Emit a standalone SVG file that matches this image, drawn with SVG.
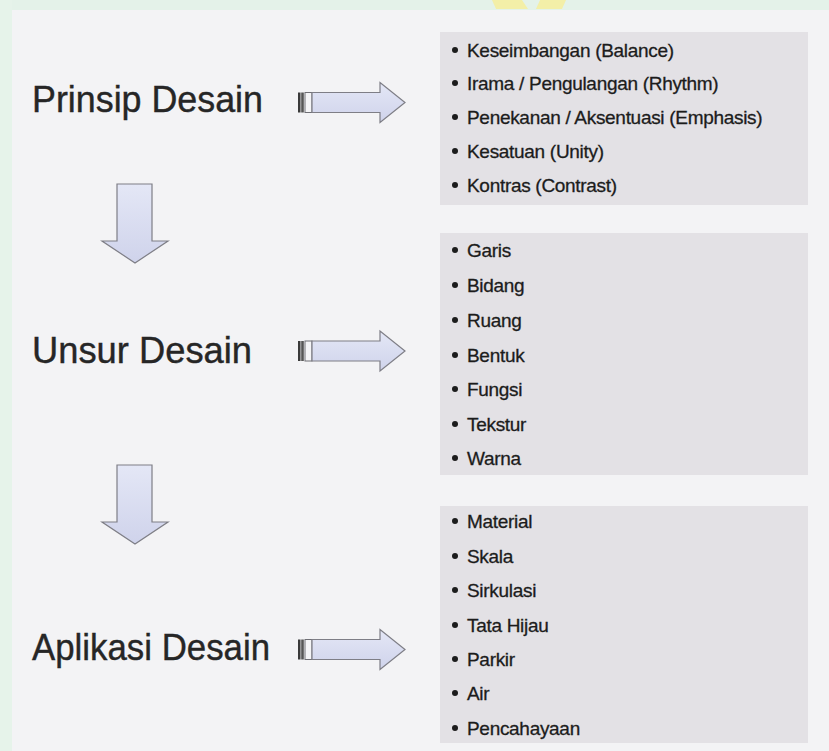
<svg xmlns="http://www.w3.org/2000/svg" width="829" height="751" viewBox="0 0 829 751">
<defs>
<style>
.lbl{font-family:"Liberation Sans",Arial,sans-serif;font-size:37px;fill:#262626;stroke:#262626;stroke-width:0.4px;}
.it{font-family:"Liberation Sans",Arial,sans-serif;font-size:19px;fill:#1c1c1c;stroke:#1c1c1c;stroke-width:0.3px;letter-spacing:-0.3px;}
.box{fill:#e3e1e5;}
.bul{fill:#1c1c1c;}
.arr{fill:url(#ag);stroke:#7e7e86;stroke-width:1.2;stroke-linejoin:miter;}
</style>
<linearGradient id="ag" x1="0" y1="0" x2="0" y2="1">
<stop offset="0" stop-color="#e4e7f6"/>
<stop offset="1" stop-color="#cfd3eb"/>
</linearGradient>
<g id="ra">
<rect x="298" y="-10" width="2.5" height="20" fill="#3a3a3a"/>
<rect x="301.2" y="-10" width="2.6" height="20" fill="#555"/>
<rect x="305" y="-10" width="7" height="20" fill="#f4f4f6" stroke="#6e6e74" stroke-width="1"/>
<polygon class="arr" points="312,-10 380,-10 380,-20 405,0 380,20 380,10 312,10"/>
</g>
<polygon id="da" class="arr" points="117,0 152,0 152,57 168,57 135,79 102,57 117,57"/>
</defs>
<rect width="829" height="751" fill="#f3f3f5"/>
<rect width="829" height="10" fill="#e4f2e9"/>
<rect width="12" height="751" fill="#e6f3ea"/>
<polygon points="492,0 522,0 528,9 496,9" fill="#f3efa8"/>
<polygon points="540,0 566,0 562,9 536,9" fill="#f3efa8"/>
<g id="box-prinsip">
<rect class="box" x="440" y="32" width="368" height="173"/>
<circle class="bul" cx="455" cy="50" r="3"/><text class="it" x="467" y="57">Keseimbangan (Balance)</text>
<circle class="bul" cx="455" cy="83" r="3"/><text class="it" x="467" y="90">Irama / Pengulangan (Rhythm)</text>
<circle class="bul" cx="455" cy="117" r="3"/><text class="it" x="467" y="124">Penekanan / Aksentuasi (Emphasis)</text>
<circle class="bul" cx="455" cy="151" r="3"/><text class="it" x="467" y="158">Kesatuan (Unity)</text>
<circle class="bul" cx="455" cy="185" r="3"/><text class="it" x="467" y="192">Kontras (Contrast)</text>
</g>
<g id="box-unsur">
<rect class="box" x="440" y="233" width="368" height="242"/>
<circle class="bul" cx="455" cy="250" r="3"/><text class="it" x="467" y="257">Garis</text>
<circle class="bul" cx="455" cy="285" r="3"/><text class="it" x="467" y="292">Bidang</text>
<circle class="bul" cx="455" cy="320" r="3"/><text class="it" x="467" y="327">Ruang</text>
<circle class="bul" cx="455" cy="355" r="3"/><text class="it" x="467" y="362">Bentuk</text>
<circle class="bul" cx="455" cy="389" r="3"/><text class="it" x="467" y="396">Fungsi</text>
<circle class="bul" cx="455" cy="424" r="3"/><text class="it" x="467" y="431">Tekstur</text>
<circle class="bul" cx="455" cy="458" r="3"/><text class="it" x="467" y="465">Warna</text>
</g>
<g id="box-aplikasi">
<rect class="box" x="440" y="506" width="368" height="237"/>
<circle class="bul" cx="455" cy="521" r="3"/><text class="it" x="467" y="528">Material</text>
<circle class="bul" cx="455" cy="556" r="3"/><text class="it" x="467" y="563">Skala</text>
<circle class="bul" cx="455" cy="590" r="3"/><text class="it" x="467" y="597">Sirkulasi</text>
<circle class="bul" cx="455" cy="625" r="3"/><text class="it" x="467" y="632">Tata Hijau</text>
<circle class="bul" cx="455" cy="659" r="3"/><text class="it" x="467" y="666">Parkir</text>
<circle class="bul" cx="455" cy="693" r="3"/><text class="it" x="467" y="700">Air</text>
<circle class="bul" cx="455" cy="728" r="3"/><text class="it" x="467" y="735">Pencahayaan</text>
</g>
<g id="node-prinsip"><text class="lbl" x="32" y="112" textLength="231" lengthAdjust="spacingAndGlyphs">Prinsip Desain</text></g>
<g id="node-unsur"><text class="lbl" x="32" y="363" textLength="220" lengthAdjust="spacingAndGlyphs">Unsur Desain</text></g>
<g id="node-aplikasi"><text class="lbl" x="32" y="660" textLength="238" lengthAdjust="spacingAndGlyphs">Aplikasi Desain</text></g>
<g id="connectors">
<use href="#ra" transform="translate(0,102.5)"/>
<use href="#ra" transform="translate(0,351)"/>
<use href="#ra" transform="translate(0,649.5)"/>
<use href="#da" transform="translate(0,184)"/>
<use href="#da" transform="translate(0,465)"/>
</g>
</svg>
